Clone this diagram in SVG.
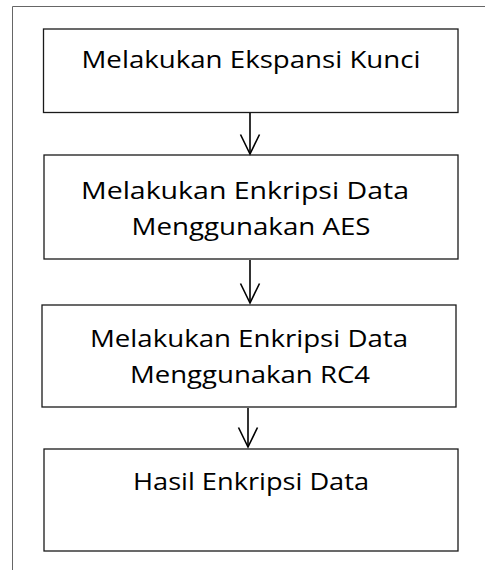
<svg xmlns="http://www.w3.org/2000/svg" width="485" height="570" viewBox="0 0 485 570">
<defs>
<style>
.box{fill:#fff;stroke:#1a1a1a;stroke-width:1.3}
.t{font-family:"Open Sans","Liberation Sans",sans-serif;font-size:24px;fill:#000;text-anchor:middle}
.c{stroke:#000;stroke-width:1.6;fill:none}
</style>
<marker id="ah" viewBox="0 0 22 22" refX="20.5" refY="11" markerWidth="22" markerHeight="22" markerUnits="userSpaceOnUse" orient="auto">
<path d="M1,1.5 L20.5,11 L1,20.5" fill="none" stroke="#000" stroke-width="1.6"/>
</marker>
</defs>
<rect width="485" height="570" fill="#fff"/>
<path d="M12.5,575 V6.5 H490" fill="none" stroke="#666" stroke-width="1"/>
<g id="n1"><rect class="box" x="43.5" y="29" width="414.5" height="83.5"/><text class="t" x="251" y="68" textLength="339" lengthAdjust="spacingAndGlyphs">Melakukan Ekspansi Kunci</text></g>
<g id="n2"><rect class="box" x="44" y="155" width="414" height="104"/><text class="t" x="245" y="199" textLength="328" lengthAdjust="spacingAndGlyphs">Melakukan Enkripsi Data</text><text class="t" x="251" y="235" textLength="239" lengthAdjust="spacingAndGlyphs">Menggunakan AES</text></g>
<g id="n3"><rect class="box" x="42" y="305" width="414" height="102"/><text class="t" x="249" y="347" textLength="318" lengthAdjust="spacingAndGlyphs">Melakukan Enkripsi Data</text><text class="t" x="250" y="383" textLength="240" lengthAdjust="spacingAndGlyphs">Menggunakan RC4</text></g>
<g id="n4"><rect class="box" x="44" y="449" width="414" height="102"/><text class="t" x="251" y="490" textLength="236" lengthAdjust="spacingAndGlyphs">Hasil Enkripsi Data</text></g>
<g id="connectors">
<line class="c" x1="250" y1="113" x2="250" y2="154" marker-end="url(#ah)"/>
<line class="c" x1="250" y1="260" x2="250" y2="303" marker-end="url(#ah)"/>
<line class="c" x1="248" y1="408" x2="248" y2="447" marker-end="url(#ah)"/>
</g>
</svg>
